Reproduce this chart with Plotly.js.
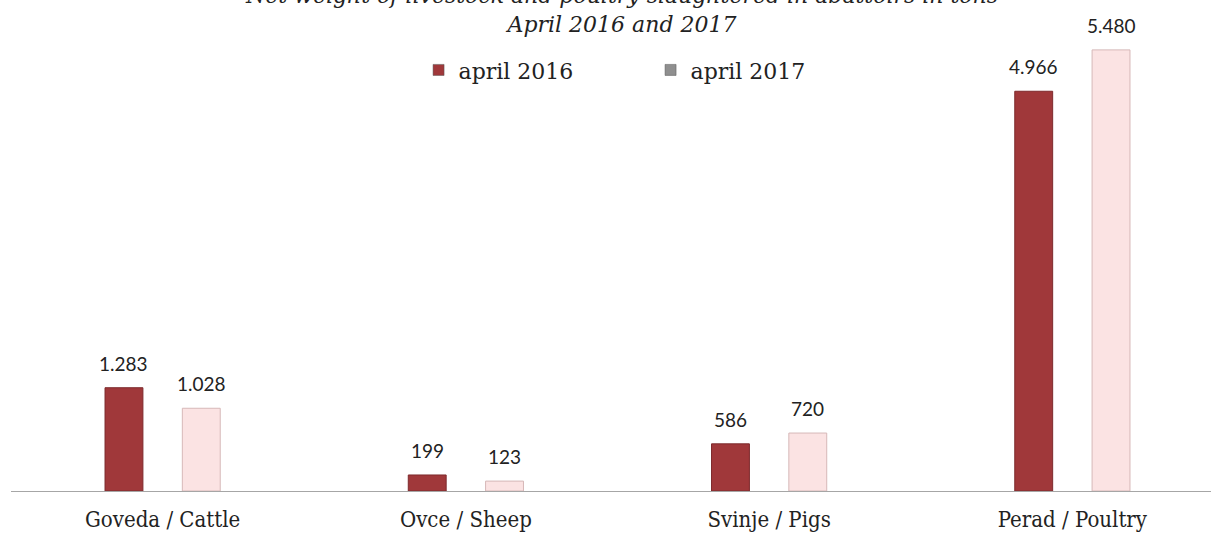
<!DOCTYPE html>
<html><head><meta charset="utf-8">
<script src="https://cdn.plot.ly/plotly-3.0.1.min.js"></script>
<style>html,body{margin:0;padding:0;background:#fff;overflow:hidden}#c{width:1224px;height:534px}</style>
</head><body><div id="c"></div>
<script>
const categories = ["Goveda / Cattle", "Ovce / Sheep", "Svinje / Pigs", "Perad / Poultry"];
const seriesNames = ["april 2016", "april 2017"];
const values2016 = [1283, 199, 586, 4966];
const values2017 = [1028, 123, 720, 5480];
const titleLines = ["Net weight of livestock and poultry slaughtered in abattoirs in tons", "April 2016 and 2017"];

const W = 1224, H = 534, M = {l: 11, r: 0, t: 30, b: 43};
const bargap = 0.49;
const catWidthPx = (W - M.l - M.r) / categories.length;
const barOffsetPx = catWidthPx * (1 - bargap) / 4;

const barColors = ["#A0383A", "#FBE3E3"];
const barLines = ["#7d2a2c", "#d6b8b8"];
const legendColors = ["#A0383A", "#8f8f8f"];
const series = [values2016, values2017];

const traces = [];
series.forEach((vals, i) => {
  traces.push({type: "bar", name: seriesNames[i], x: categories, y: vals, showlegend: false,
    marker: {color: barColors[i], line: {color: barLines[i], width: 1}}, hoverinfo: "skip"});
});
series.forEach((vals, i) => {
  traces.push({type: "scatter", mode: "markers", name: seriesNames[i], x: [categories[0]], y: [null],
    marker: {symbol: "square", size: 11, color: legendColors[i], line: {color: "#555", width: 0.5}}, hoverinfo: "skip"});
});

const annotations = [{
  xref: "paper", yref: "paper", x: 0.503, y: 1, xanchor: "center", yanchor: "bottom", yshift: -9,
  showarrow: false, text: "<i>" + titleLines.join("<br>") + "</i>",
  font: {family: "'DejaVu Serif', serif", size: 22, color: "#222"}
}];
series.forEach((vals, i) => {
  vals.forEach((v, j) => {
    annotations.push({xref: "x", yref: "y", x: categories[j], y: v, xshift: (i === 0 ? -1 : 1) * barOffsetPx,
      yanchor: "bottom", yshift: 11, showarrow: false, text: v.toLocaleString("de-DE"),
      font: {family: "Lato, 'Open Sans', sans-serif", size: 19, color: "#222"}});
  });
});

const layout = {
  width: W, height: H, margin: M,
  paper_bgcolor: "#fff", plot_bgcolor: "#fff",
  barmode: "group", bargap: bargap, bargroupgap: 0.51,
  showlegend: true,
  legend: {orientation: "h", x: 0.336, xanchor: "left", y: 0.913, yanchor: "middle",
           font: {family: "'DejaVu Serif', serif", size: 22, color: "#222"},
           entrywidth: 187, entrywidthmode: "pixels", itemwidth: 30, bgcolor: "rgba(0,0,0,0)"},
  xaxis: {showline: true, linecolor: "#a6a6a6", linewidth: 1, ticks: "", showgrid: false,
          tickfont: {family: "'DejaVu Serif Condensed', serif", size: 22, color: "#222"}, ticklabelstandoff: 9},
  yaxis: {range: [0, 5727], visible: false, showgrid: false, zeroline: false},
  annotations: annotations
};
Plotly.newPlot("c", traces, layout, {staticPlot: true});
</script></body></html>
